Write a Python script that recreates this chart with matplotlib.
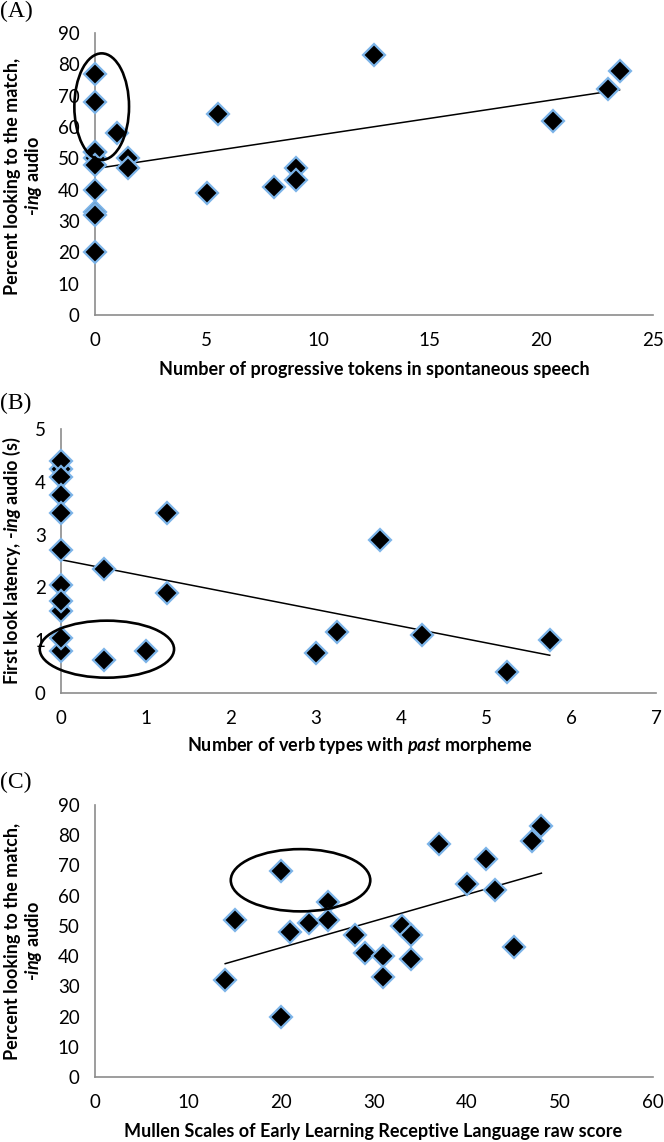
import numpy as np
import matplotlib
matplotlib.use("Agg")
import matplotlib.pyplot as plt
from matplotlib.patches import Ellipse

# ---------------- data ----------------
a_x = [0, 0, 0, 0, 0, 0, 0, 0, 0, 0, 1, 1.5, 1.5, 5, 5.5, 8, 9, 9, 12.5, 20.5, 23, 23.5]
a_y = [77, 68, 50, 52, 52, 48, 33, 32, 40, 20, 58, 50, 47, 39, 64, 41, 47, 43, 83, 62, 72, 78]

b_x = [0, 0, 0, 0, 0, 0, 0, 0, 0, 0, 0, 0.5, 0.5, 1, 1.25, 1.25, 3, 3.25, 3.75, 4.25, 5.25, 5.75]
b_y = [4.25, 4.4, 4.1, 3.75, 3.4, 2.7, 2.05, 1.55, 1.75, 0.8, 1.05, 2.35, 0.62, 0.8, 3.4, 1.9,
       0.75, 1.15, 2.9, 1.1, 0.4, 1.0]

c_x = [14, 15, 20, 20, 21, 23, 25, 25, 28, 29, 31, 31, 33, 34, 34, 37, 40, 42, 43, 45, 47, 48]
c_y = [32, 52, 68, 20, 48, 51, 58, 52, 47, 41, 40, 33, 50, 47, 39, 77, 64, 72, 62, 43, 78, 83]

a_xticks = [0, 5, 10, 15, 20, 25]
a_yticks = [0, 10, 20, 30, 40, 50, 60, 70, 80, 90]
b_xticks = [0, 1, 2, 3, 4, 5, 6, 7]
b_yticks = [0, 1, 2, 3, 4, 5]
c_xticks = [0, 10, 20, 30, 40, 50, 60]
c_yticks = [0, 10, 20, 30, 40, 50, 60, 70, 80, 90]

# ellipses highlighting groups: (center x, center y, width, height) in data units
a_ellipse = (0.3, 66.5, 2.45, 34)
b_ellipse = (0.54, 0.83, 1.58, 1.08)
c_ellipse = (22.1, 65.1, 15.0, 20.6)

# ---------------- style ----------------
plt.rcParams['font.family'] = ['Lato', 'DejaVu Sans']
plt.rcParams['mathtext.fontset'] = 'custom'
plt.rcParams['mathtext.it'] = 'Lato:italic:bold'
plt.rcParams['mathtext.rm'] = 'Lato:bold'
plt.rcParams['mathtext.bf'] = 'Lato:bold'

W, H = 664, 1142
fig = plt.figure(figsize=(W / 100, H / 100), dpi=100)

AX_GRAY = '#8c8c8c'
EDGE = '#7cb4e8'
TICK_FS = 13.5
LAB_FS = 13


def px_axes(l, r, t, b):
    return fig.add_axes([l / W, 1 - b / H, (r - l) / W, (b - t) / H])


def style(ax, xt, yt):
    for s in ['top', 'right']:
        ax.spines[s].set_visible(False)
    for s in ['left', 'bottom']:
        ax.spines[s].set_color(AX_GRAY)
        ax.spines[s].set_linewidth(1.2)
    ax.set_xticks(xt)
    ax.set_yticks(yt)
    ax.set_xlim(xt[0], xt[-1])
    ax.set_ylim(yt[0], yt[-1])
    ax.tick_params(length=0, labelsize=TICK_FS, pad=12)
    ax.tick_params(axis='y', pad=11)


def scatter_fit(ax, x, y, ell):
    x = np.asarray(x, float)
    y = np.asarray(y, float)
    k, b0 = np.polyfit(x, y, 1)
    xs = np.array([x.min(), x.max()])
    ax.plot(xs, k * xs + b0, color='black', lw=1.1, zorder=2)
    ax.plot(x, y, linestyle='none', marker='D', markersize=11.5,
            markerfacecolor='black', markeredgecolor=EDGE, markeredgewidth=1.6,
            zorder=3, clip_on=False)
    e = Ellipse((ell[0], ell[1]), ell[2], ell[3], fill=False, edgecolor='black',
                lw=1.9, zorder=4, clip_on=False)
    ax.add_patch(e)


def fx(px):
    return px / W


def fy(py):
    return 1 - py / H


# Panel A
axA = px_axes(95, 653, 33, 315)
style(axA, a_xticks, a_yticks)
scatter_fit(axA, a_x, a_y, a_ellipse)
fig.text(fx(0), fy(11), '(A)', family='Liberation Serif', fontsize=17, ha='left', va='center')
fig.text(fx(374), fy(370), 'Number of progressive tokens in spontaneous speech',
         fontsize=LAB_FS, fontweight='bold', ha='center', va='center')
fig.text(fx(13), fy(176), 'Percent looking to the match,', rotation=90,
         fontsize=LAB_FS, fontweight='bold', ha='center', va='center')
fig.text(fx(34), fy(176), r'-$\mathit{ing}$ audio', rotation=90,
         fontsize=LAB_FS, fontweight='bold', ha='center', va='center')

# Panel B
axB = px_axes(61, 656, 429, 693)
style(axB, b_xticks, b_yticks)
scatter_fit(axB, b_x, b_y, b_ellipse)
fig.text(fx(0), fy(403), '(B)', family='Liberation Serif', fontsize=17, ha='left', va='center')
fig.text(fx(360), fy(746), r'Number of verb types with $\mathit{past}$ morpheme',
         fontsize=LAB_FS, fontweight='bold', ha='center', va='center')
fig.text(fx(12), fy(561), r'First look latency, -$\mathit{ing}$ audio (s)', rotation=90,
         fontsize=LAB_FS, fontweight='bold', ha='center', va='center')

# Panel C
axC = px_axes(95, 653, 805, 1077)
style(axC, c_xticks, c_yticks)
scatter_fit(axC, c_x, c_y, c_ellipse)
fig.text(fx(0), fy(782), '(C)', family='Liberation Serif', fontsize=17, ha='left', va='center')
fig.text(fx(373), fy(1132), 'Mullen Scales of Early Learning Receptive Language raw score',
         fontsize=LAB_FS, fontweight='bold', ha='center', va='center')
fig.text(fx(13), fy(941), 'Percent looking to the match,', rotation=90,
         fontsize=LAB_FS, fontweight='bold', ha='center', va='center')
fig.text(fx(34), fy(941), r'-$\mathit{ing}$ audio', rotation=90,
         fontsize=LAB_FS, fontweight='bold', ha='center', va='center')

fig.savefig('out.png', dpi=100)
